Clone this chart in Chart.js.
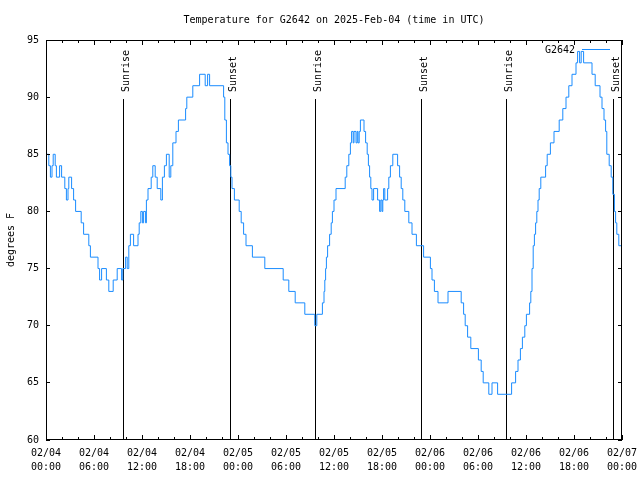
<!DOCTYPE html>
<html>
<head>
<meta charset="utf-8">
<script src="https://cdn.jsdelivr.net/npm/chart.js@4/dist/chart.umd.min.js"></script>
<style>
  html, body { margin: 0; padding: 0; background: #fff; }
  #wrap { width: 640px; height: 480px; }
</style>
</head>
<body>
<div id="wrap"><canvas id="tempChart" width="640" height="480"></canvas></div>
<script>
// hours since 2025-02-04 00:00 UTC where the reading changes, and the new reading (deg F)
const hours = [
  0, 0.35, 0.55, 0.75, 0.9, 1.15, 1.3, 1.7, 1.95, 2.35, 2.55, 2.75, 2.85, 3.2, 3.45, 3.7,
  4.4, 4.7, 5.35, 5.55, 6.5, 6.7, 6.95, 7.55, 7.85, 8.4, 8.9, 9.45, 9.6, 9.95, 10.15, 10.35,
  10.55, 10.95, 11.5, 11.65, 11.85, 12.05, 12.2, 12.45, 12.55, 12.75, 13.15, 13.35, 13.65, 13.9,
  14.35, 14.55, 14.8, 15.05, 15.4, 15.6, 15.85, 16.25, 16.55, 17.45, 17.6, 18.35, 19.2, 19.9,
  20.2, 20.45, 22.2, 22.35, 22.55, 22.75, 22.95, 23.1, 23.25, 23.55, 24.15, 24.4, 24.7, 25.0,
  25.8, 27.35, 29.65, 30.35, 31.15, 32.35, 33.6, 33.85, 34.55, 34.75, 34.85, 34.95, 35.05, 35.2,
  35.45, 35.65, 35.8, 36.0, 36.25, 37.4, 37.6, 37.85, 38.05, 38.2, 38.4, 38.5, 38.75, 38.9,
  39.0, 39.15, 39.3, 39.75, 39.95, 40.15, 40.3, 40.45, 40.6, 40.75, 40.95, 41.45, 41.7, 41.85,
  42.0, 42.1, 42.2, 42.35, 42.7, 42.85, 43.05, 43.35, 43.95, 44.2, 44.4, 44.6, 44.85, 45.35,
  45.75, 46.3, 47.2, 48.05, 48.25, 48.55, 49.0, 50.25, 51.9, 52.2, 52.4, 52.7, 53.1, 54.05,
  54.4, 54.65, 55.35, 55.75, 56.45, 58.2, 58.7, 59.0, 59.3, 59.55, 59.85, 60.05, 60.45, 60.6,
  60.75, 60.9, 61.05, 61.2, 61.35, 61.5, 61.65, 61.85, 62.45, 62.65, 63.05, 63.5, 64.15, 64.6,
  65.0, 65.35, 65.75, 66.25, 66.45, 66.7, 66.9, 67.2, 68.25, 68.65, 69.25, 69.5, 69.75, 69.95,
  70.1, 70.4, 70.65, 70.85, 71.05, 71.2, 71.35, 71.6, 72.0
];
const tempF = [
  85, 84, 83, 84, 85, 84, 83, 84, 83, 82, 81, 82, 83, 82, 81, 80,
  79, 78, 77, 76, 75, 74, 75, 74, 73, 74, 75, 74, 75, 76, 75, 77,
  78, 77, 78, 79, 80, 79, 80, 79, 81, 82, 83, 84, 83, 82,
  81, 83, 84, 85, 83, 84, 86, 87, 88, 89, 90, 91, 92, 91,
  92, 91, 90, 88, 86, 85, 84, 83, 82, 81, 80, 79, 78, 77,
  76, 75, 74, 73, 72, 71, 70, 71, 72, 73, 74, 75, 76, 77,
  78, 79, 80, 81, 82, 83, 84, 85, 86, 87, 86, 87, 86, 87,
  86, 87, 88, 87, 86, 85, 84, 83, 82, 81, 82, 81, 80, 81,
  80, 81, 82, 81, 82, 83, 84, 85, 84, 83, 82, 81, 80, 79,
  78, 77, 76, 75, 74, 73, 72, 73, 72, 71, 70, 69, 68, 67,
  66, 65, 64, 65, 64, 65, 66, 67, 68, 69, 70, 71, 72, 73,
  75, 77, 78, 79, 80, 81, 82, 83, 84, 85, 86, 87, 88, 89,
  90, 91, 92, 93, 94, 93, 94, 93, 92, 91, 90, 89, 88, 87,
  85, 84, 83, 81.5, 80, 79, 78, 77, 77
];

const sunEvents = ["Sunrise", "Sunset", "Sunrise", "Sunset", "Sunrise", "Sunset"];
const sunHours = [9.67, 23.04, 33.71, 46.92, 57.54, 70.92];

const dayLabels = ["02/04", "02/05", "02/06", "02/07"];
const timeLabels = ["00:00", "06:00", "12:00", "18:00"];

const stationName = "G2642";
const lineColor = "#1a8cff";
const monoFont = "'DejaVu Sans Mono', monospace";

// sunrise / sunset markers
const sunLines = {
  id: "sunLines",
  beforeDatasetsDraw(chart) {
    const ctx = chart.ctx;
    const x = chart.scales.x;
    const area = chart.chartArea;
    ctx.save();
    ctx.strokeStyle = "#000";
    ctx.lineWidth = 1;
    ctx.fillStyle = "#000";
    ctx.font = "10px " + monoFont;
    sunHours.forEach((h, i) => {
      const px = Math.floor(x.getPixelForValue(h)) + 0.5;
      ctx.beginPath();
      ctx.moveTo(px, area.top + 59);
      ctx.lineTo(px, area.bottom);
      ctx.stroke();
      ctx.save();
      ctx.translate(px + 5, area.top + 52);
      ctx.rotate(-Math.PI / 2);
      ctx.textAlign = "left";
      ctx.textBaseline = "alphabetic";
      ctx.fillText(sunEvents[i], 0, 0);
      ctx.restore();
    });
    ctx.restore();
  },
};

// frame, inward ticks and key, gnuplot style
const frame = {
  id: "frame",
  afterDraw(chart) {
    const ctx = chart.ctx;
    const { left, right, top, bottom } = chart.chartArea;
    const x = chart.scales.x;
    const y = chart.scales.y;
    ctx.save();
    ctx.strokeStyle = "#000";
    ctx.lineWidth = 1;
    ctx.strokeRect(left + 0.5, top + 0.5, right - left - 1, bottom - top - 1);
    ctx.beginPath();
    for (let h = 0; h <= 72; h += 2) {
      const px = Math.floor(x.getPixelForValue(h)) + 0.5;
      const len = h % 6 === 0 ? 5 : 3;
      ctx.moveTo(px, bottom);
      ctx.lineTo(px, bottom - len);
      ctx.moveTo(px, top);
      ctx.lineTo(px, top + len);
    }
    for (let v = 60; v <= 95; v += 5) {
      const py = Math.floor(y.getPixelForValue(v)) + 0.5;
      ctx.moveTo(left, py);
      ctx.lineTo(left + 4, py);
      ctx.moveTo(right, py);
      ctx.lineTo(right - 4, py);
    }
    ctx.stroke();

    // key
    const ky = top + 9.5;
    ctx.fillStyle = "#000";
    ctx.font = "10px " + monoFont;
    ctx.textAlign = "right";
    ctx.textBaseline = "middle";
    ctx.fillText(stationName, right - 47, ky + 1);
    ctx.strokeStyle = lineColor;
    ctx.beginPath();
    ctx.moveTo(right - 40, ky);
    ctx.lineTo(right - 12, ky);
    ctx.stroke();
    ctx.restore();
  },
};

const ctx = document.getElementById("tempChart").getContext("2d");

new Chart(ctx, {
  type: "line",
  data: {
    datasets: [
      {
        label: stationName,
        data: hours.map((h, i) => ({ x: h, y: tempF[i] })),
        borderColor: lineColor,
        borderWidth: 1,
        pointRadius: 0,
        stepped: true,
        fill: false,
      },
    ],
  },
  options: {
    responsive: false,
    animation: false,
    layout: { padding: { left: 0, right: 18, top: 0, bottom: 0 } },
    plugins: {
      legend: { display: false },
      tooltip: { enabled: false },
      title: {
        display: true,
        fullSize: false,
        text: "Temperature for G2642 on 2025-Feb-04 (time in UTC)",
        color: "#000",
        font: { family: monoFont, size: 10, weight: "normal" },
        padding: { top: 14, bottom: 14 },
      },
    },
    scales: {
      x: {
        type: "linear",
        min: 0,
        max: 72,
        afterFit: (scale) => {
          scale.height = 40;
          scale.paddingLeft = 0;
          scale.paddingRight = 0;
        },
        grid: { display: false, drawTicks: false },
        border: { display: false },
        ticks: {
          stepSize: 6,
          autoSkip: false,
          maxRotation: 0,
          padding: 6,
          color: "#000",
          font: { family: monoFont, size: 10, lineHeight: 1.4 },
          callback: (v) => [dayLabels[Math.floor(v / 24)], timeLabels[(v % 24) / 6]],
        },
      },
      y: {
        min: 60,
        max: 95,
        afterFit: (scale) => {
          scale.width = 46;
          scale.paddingTop = 0;
          scale.paddingBottom = 0;
        },
        grid: { display: false, drawTicks: false },
        border: { display: false },
        ticks: {
          stepSize: 5,
          padding: 7,
          color: "#000",
          font: { family: monoFont, size: 10 },
        },
        title: {
          display: true,
          text: "degrees F",
          color: "#000",
          font: { family: monoFont, size: 10 },
          padding: { top: 5, bottom: 0 },
        },
      },
    },
  },
  plugins: [sunLines, frame],
});
</script>
</body>
</html>
